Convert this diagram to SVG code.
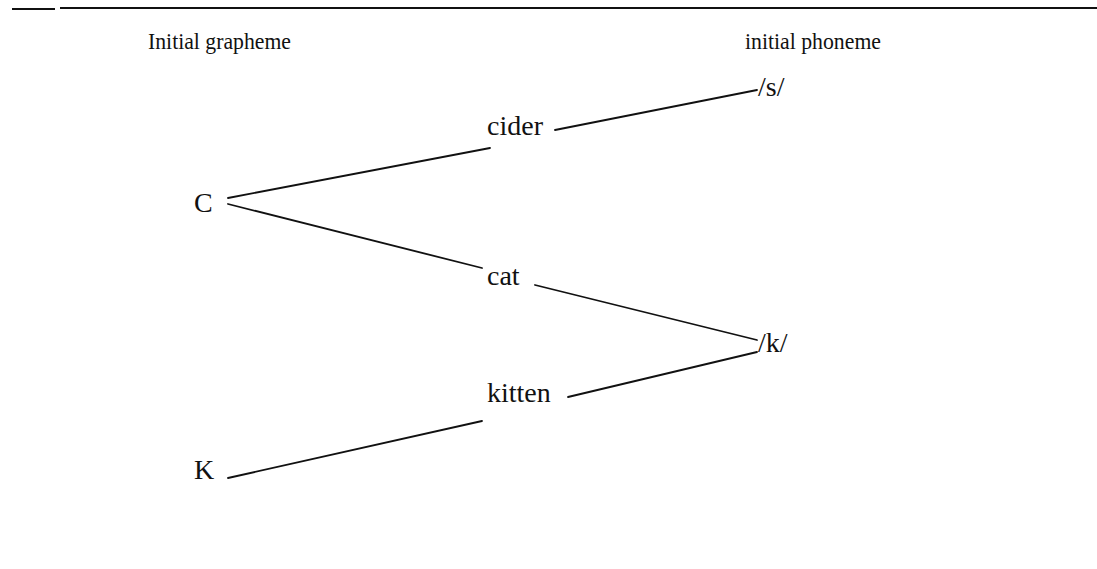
<svg xmlns="http://www.w3.org/2000/svg" width="1097" height="569" viewBox="0 0 1097 569">
  <style>
    text { font-family: "Liberation Serif", "Times New Roman", serif; font-size: 28px; fill: #111; }
    text.hdr { font-size: 23px; }
    .edge { stroke: #111; stroke-width: 1.8; fill: none; stroke-linecap: round; }
    .rule { stroke: #111; stroke-width: 2; }
  </style>
  <rect width="1097" height="569" fill="#fff"/>
  <!-- top rule -->
  <line class="rule" x1="12" y1="9" x2="55" y2="9"/>
  <line class="rule" x1="60" y1="8" x2="1097" y2="8"/>

  <g id="hdr-grapheme"><text class="hdr" x="148" y="49" textLength="143" lengthAdjust="spacingAndGlyphs">Initial grapheme</text></g>
  <g id="hdr-phoneme"><text class="hdr" x="745" y="49" textLength="136" lengthAdjust="spacingAndGlyphs">initial phoneme</text></g>

  <g id="n-C"><text x="194" y="212">C</text></g>
  <g id="n-K"><text x="194" y="479">K</text></g>
  <g id="n-cider"><text x="487" y="135">cider</text></g>
  <g id="n-cat"><text x="487" y="285">cat</text></g>
  <g id="n-kitten"><text x="487" y="402">kitten</text></g>
  <g id="n-s"><text x="758" y="96">/s/</text></g>
  <g id="n-k"><text x="758" y="352">/k/</text></g>

  <g id="connectors">
    <line class="edge" x1="228" y1="198" x2="490" y2="148"/>
    <line class="edge" x1="555" y1="130" x2="757" y2="90"/>
    <line class="edge" x1="228" y1="204" x2="482" y2="268"/>
    <line class="edge" x1="535" y1="285" x2="757" y2="340"/>
    <line class="edge" x1="568" y1="397" x2="757" y2="352"/>
    <line class="edge" x1="228" y1="478" x2="482" y2="421"/>
  </g>
</svg>
